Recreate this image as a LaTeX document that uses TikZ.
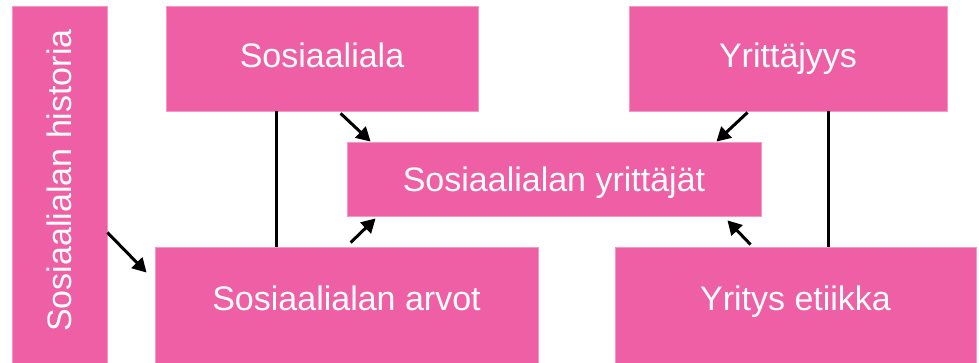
\documentclass[tikz,border=0pt]{standalone}
\usepackage{fontspec}
\setmainfont{Liberation Sans}
\usetikzlibrary{arrows.meta}
\definecolor{boxpink}{RGB}{238,95,166}
\definecolor{edgepink}{RGB}{245,150,195}
\begin{document}
\begin{tikzpicture}[x=1pt,y=1pt,
  pbox/.style={fill=boxpink,draw=edgepink,line width=0.8pt,inner sep=0pt,text=white,
    font=\fontsize{34}{40}\selectfont},
  link/.style={line width=3pt,black},
  arr/.style={line width=3pt,black,-{Triangle[length=14pt,width=15pt]}}]
\useasboundingbox (0,0) rectangle (979,-363);
\node[pbox,minimum width=357pt,minimum height=95pt,rotate=90] (hist) at (59.5,-184.5) {\hspace*{8pt}Sosiaalialan historia};
\node[pbox,minimum width=312pt,minimum height=105pt,text height=25pt,text depth=7pt] (sos) at (322,-58.5) {Sosiaaliala};
\node[pbox,minimum width=318pt,minimum height=105pt,text height=25pt,text depth=7pt] (yrj) at (788,-58.5) {Yrittäjyys};
\node[pbox,minimum width=414pt,minimum height=74pt,text height=26pt,text depth=0pt] (yrt) at (554,-179) {Sosiaalialan yrittäjät};
\node[pbox,minimum width=383pt,minimum height=116pt,text height=25pt,text depth=15pt] (arv) at (346.5,-305) {Sosiaalialan arvot};
\node[pbox,minimum width=361pt,minimum height=116pt,text height=25pt,text depth=15pt] (eti) at (795.5,-305) {Yritys etiikka};
% plain links
\draw[link] ([xshift=111pt]sos.south west) -- ([xshift=122pt]arv.north west);
\draw[link] ([xshift=200pt]yrj.south west) -- ([xshift=214pt]eti.north west);
% arrows
\draw[arr] ([xshift=175pt,yshift=-2pt]sos.south west) -- ([xshift=24pt]yrt.north west);
\draw[arr] ([xshift=119pt,yshift=-1pt]yrj.south west) -- ([xshift=-45pt]yrt.north east);
\draw[arr] ([xshift=196pt,yshift=4pt]arv.north west) -- ([xshift=29pt,yshift=-2pt]yrt.south west);
\draw[arr] ([xshift=136pt,yshift=2pt]eti.north west) -- ([xshift=-34pt,yshift=-4pt]yrt.south east);
\draw[arr] ([yshift=-48pt]hist.south) -- ([xshift=-8pt,yshift=-26pt]arv.north west);
\end{tikzpicture}
\end{document}
